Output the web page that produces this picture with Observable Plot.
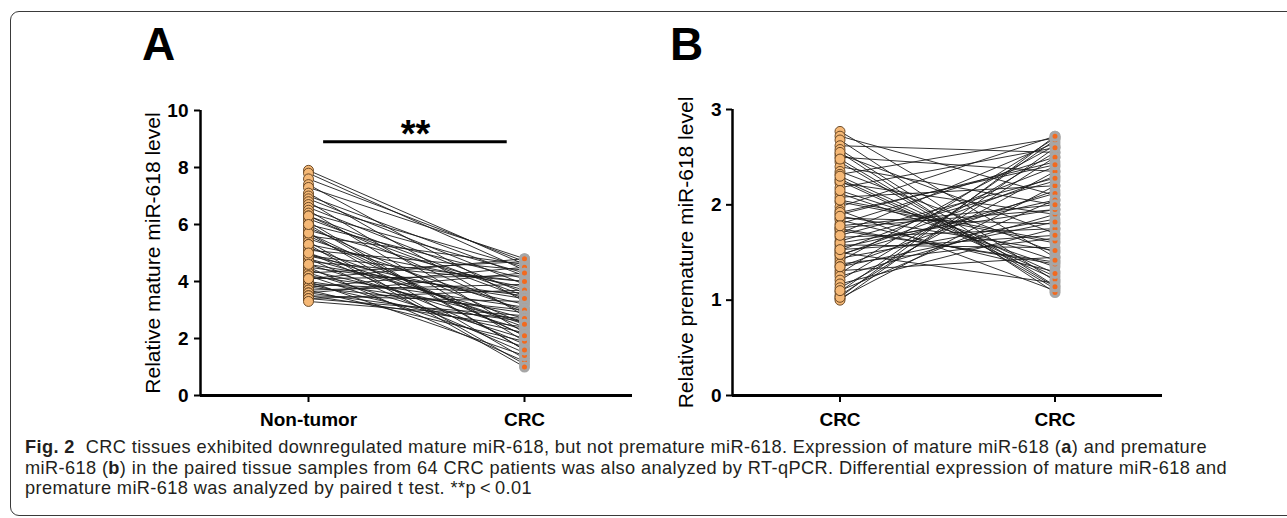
<!DOCTYPE html>
<html><head><meta charset="utf-8">
<script src="https://cdn.jsdelivr.net/npm/d3@7"></script>
<script src="https://cdn.jsdelivr.net/npm/@observablehq/plot@0.6"></script>
<style>
body{margin:0;background:#fff;}
#wrap{position:relative;width:1287px;height:518px;overflow:hidden;background:#fff;}
#box{position:absolute;left:10px;top:11px;width:1310px;height:503px;border:1.5px solid #3a3a3a;border-radius:9px;}
.panel{position:absolute;top:0;}
.letter{position:absolute;font:bold 46px "Liberation Sans",Arial,sans-serif;line-height:46px;color:#000;}
#caption{position:absolute;left:25px;top:437px;font-family:"Liberation Sans",Arial,sans-serif;font-size:18.2px;line-height:20.5px;color:#231f20;white-space:nowrap;}
.panel svg text{font-family:"Liberation Sans",Arial,sans-serif;}
g[aria-label="y-axis tick label"] text, g[aria-label="x-axis tick label"] text{font-weight:bold;font-size:19px;}
</style>
</head><body>
<div id="wrap">
  <div id="box"></div>
  <div class="letter" style="left:142px;top:21px;">A</div>
  <div class="letter" style="left:670px;top:21px;">B</div>
  <div class="panel" id="pa" style="left:0px;"></div>
  <div class="panel" id="pb" style="left:640px;"></div>
  <div id="caption"><span id="l1"><b>Fig. 2</b>&nbsp; CRC tissues exhibited downregulated mature miR-618, but not premature miR-618. Expression of mature miR-618 (<b>a</b>) and premature</span><br>miR-618 (<b>b</b>) in the paired tissue samples from 64 CRC patients was also analyzed by RT-qPCR. Differential expression of mature miR-618 and<br>premature miR-618 was analyzed by paired t test. **p&thinsp;&lt;&thinsp;0.01</div>
</div>
<script>
// ---- data ----
const groupsA = ["Non-tumor", "CRC"];
const groupsB = ["CRC", "CRC"];
const titleA = "Relative mature miR-618 level";
const titleB = "Relative premature miR-618 level";
const yTicksA = [0, 2, 4, 6, 8, 10];
const yTicksB = [0, 1, 2, 3];

const ntA = [7.9, 7.8, 7.6, 7.4, 7.3, 7.1, 7.0, 6.9, 6.8, 6.7,
             6.6, 6.5, 6.4, 6.3, 6.2, 6.1, 6.0, 5.9, 5.8, 5.7,
             5.6, 5.6, 5.5, 5.4, 5.3, 5.2, 5.1, 5.0, 4.9, 4.8,
             4.8, 4.7, 4.6, 4.5, 4.5, 4.4, 4.3, 4.3, 4.2, 4.2,
             4.1, 4.0, 4.0, 3.9, 3.9, 3.8, 3.8, 3.7, 3.7, 3.6,
             3.6, 3.5, 3.5, 3.4, 3.4, 3.3, 5.3, 6.3, 5.7, 4.9,
             6.0, 4.6, 5.0, 4.1];
const crcA = [4.6, 4.4, 4.7, 3.3, 4.8, 2.8, 4.2, 3.9, 2.2, 4.5,
              3.6, 1.9, 4.3, 2.9, 3.4, 1.6, 4.1, 2.5, 3.7, 1.3,
              4.6, 2.1, 3.0, 1.1, 3.8, 2.4, 4.4, 1.8, 3.2, 2.7,
              1.5, 4.0, 2.3, 3.5, 1.2, 2.6, 4.7, 2.0, 3.1, 1.7,
              4.2, 2.9, 1.4, 3.6, 2.2, 4.5, 3.0, 1.9, 3.9, 2.6,
              4.3, 2.4, 3.3, 2.8, 3.7, 2.7, 1.0, 3.5, 2.1, 4.0,
              1.6, 3.4, 2.5, 4.8];

const ntB = [2.77, 2.72, 2.68, 2.62, 2.58, 2.53, 2.50, 2.45, 2.40, 2.35,
             2.32, 2.27, 2.23, 2.18, 2.12, 2.08, 2.03, 1.98, 1.94, 1.90,
             1.86, 1.84, 1.80, 1.76, 1.73, 1.70, 1.66, 1.62, 1.58, 1.55,
             1.52, 1.50, 1.47, 1.44, 1.41, 1.38, 1.35, 1.31, 1.28, 1.25,
             1.21, 1.17, 1.13, 1.09, 1.05, 1.02, 1.00, 2.55, 2.25, 1.92,
             1.60, 1.48, 1.75, 2.05, 2.30, 1.03, 1.10, 1.88, 2.48, 1.35,
             1.68, 2.15, 1.53, 1.78];
const crcB = [1.45, 2.10, 1.20, 2.55, 1.15, 1.70, 2.35, 1.12, 2.00, 1.50,
              2.70, 1.25, 1.90, 2.60, 1.35, 2.20, 1.60, 2.72, 1.10, 2.45,
              1.80, 1.30, 2.50, 1.95, 1.40, 2.65, 1.75, 2.25, 1.55, 2.05,
              2.40, 1.18, 2.30, 1.85, 2.62, 1.65, 2.15, 1.45, 2.70, 1.90,
              2.55, 1.75, 2.35, 2.68, 2.50, 2.20, 2.60, 1.08, 1.22, 2.42,
              1.95, 2.12, 1.38, 1.62, 1.28, 2.72, 2.05, 1.52, 1.14, 1.82,
              2.28, 1.42, 1.68, 2.00];

const sigA = [{x1: 0.07, x2: 0.92, y: 8.9, label: "**"}];

// ---- styles ----
const lineColor = "#1c1c1c";
const ntFill = "#f5b876", ntStroke = "#5e3d1c";
const crcFill = "#f26a1f", crcStroke = "#a6a6a6";

function panel({nt, crc, groups, yMax, yTicks, title, sig, marginLeft, marginRight, marginTop, width, labelDx, tickPad}) {
  const pairs = nt.map((v, i) => ({a: v, b: crc[i]}));
  const left = nt.map(v => ({g: 0, v}));
  const right = crc.map(v => ({g: 1, v}));
  const marks = [
    Plot.link(pairs, {x1: 0, x2: 1, y1: "a", y2: "b", stroke: lineColor, strokeWidth: 0.9}),
    Plot.dot(left, {x: "g", y: "v", r: 5, fill: ntFill, stroke: ntStroke, strokeWidth: 0.9}),
    Plot.dot(right, {x: "g", y: "v", r: 4, fill: crcFill, stroke: crcStroke, strokeWidth: 3}),
    Plot.ruleX([-0.5], {stroke: "#000", strokeWidth: 2.5}),
    Plot.ruleY([0], {stroke: "#000", strokeWidth: 3}),
    Plot.axisY({ticks: yTicks, tickFormat: d => String(d), tickSize: 6, tickPadding: tickPad, strokeWidth: 2, fontSize: 19, fontWeight: "bold", label: null}),
    Plot.axisX({ticks: [0, 1], tickFormat: i => groups[i], tickSize: 7, tickPadding: 10, strokeWidth: 2, fontSize: 19, fontWeight: "bold", label: null}),
    Plot.text([title], {frameAnchor: "left", textAnchor: "middle", lineAnchor: "middle", rotate: -90, dx: labelDx, fontSize: 21, fill: "#000"})
  ];
  if (sig) {
    marks.push(Plot.ruleY(sig, {x1: "x1", x2: "x2", y: "y", stroke: "#000", strokeWidth: 3}));
    marks.push(Plot.text(sig, {x: d => (d.x1 + d.x2) / 2, y: "y", text: "label", fontSize: 38, fontWeight: "bold", dy: -7, fill: "#000"}));
  }
  return Plot.plot({
    width, height: 440,
    marginLeft, marginRight, marginTop, marginBottom: 45,
    x: {type: "linear", domain: [-0.5, 1.5]},
    y: {domain: [0, yMax]},
    style: {background: "transparent", overflow: "visible"},
    marks
  });
}

document.getElementById("pa").append(panel({
  nt: ntA, crc: crcA, groups: groupsA, yMax: 10, yTicks: yTicksA, title: titleA, sig: sigA,
  marginLeft: 200, marginRight: 8, marginTop: 110, width: 640, labelDx: -47, tickPad: 6
}));
document.getElementById("pb").append(panel({
  nt: ntB, crc: crcB, groups: groupsB, yMax: 3, yTicks: yTicksB, title: titleB, sig: null,
  marginLeft: 92, marginRight: 125, marginTop: 109, width: 647, labelDx: -46, tickPad: 5
}));

// fit caption's first line to the reference width (1182px)
const l1 = document.getElementById("l1");
const w = l1.getBoundingClientRect().width;
const n = l1.textContent.length;
document.getElementById("caption").style.letterSpacing = ((1182 - w) / n).toFixed(3) + "px";
</script>
</body></html>
